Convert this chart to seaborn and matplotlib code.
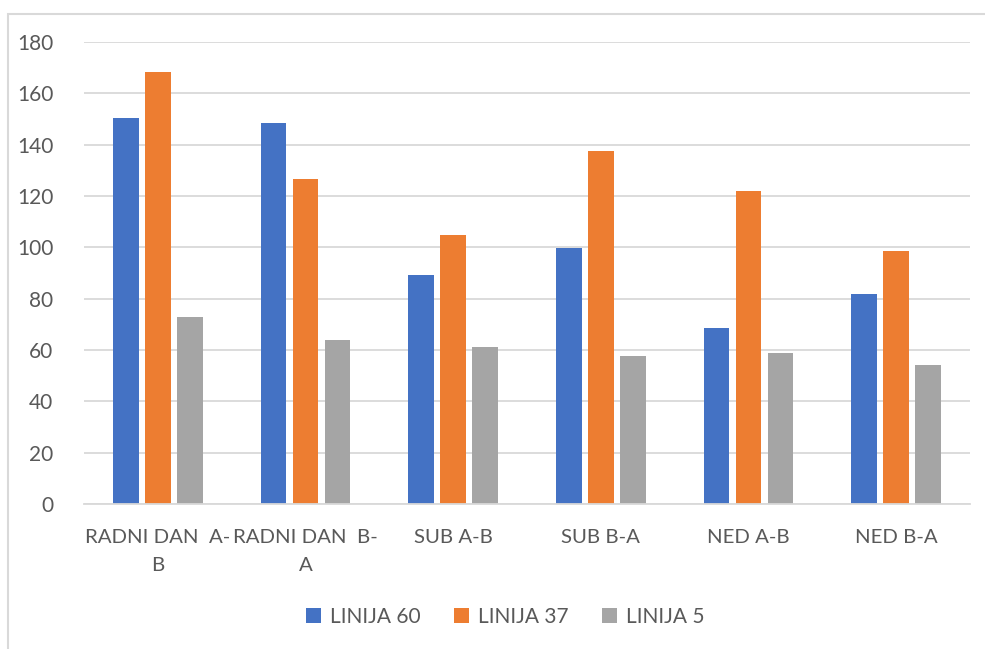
import matplotlib
matplotlib.use("Agg")
import matplotlib.pyplot as plt
import seaborn as sns
import pandas as pd
from matplotlib.patches import Rectangle, Patch

categories = ["RADNI DAN  A-\nB", "RADNI DAN  B-\nA", "SUB A-B", "SUB B-A", "NED A-B", "NED B-A"]
series_names = ["LINIJA 60", "LINIJA 37", "LINIJA 5"]
linija_60 = [150.3, 148.3, 89.1, 99.9, 68.4, 81.7]
linija_37 = [168.4, 126.7, 104.8, 137.5, 121.8, 98.6]
linija_5 = [73.0, 64.0, 61.0, 57.8, 59.0, 54.0]
colors = ["#4472C4", "#ED7D31", "#A5A5A5"]

rows = []
for name, vals in zip(series_names, [linija_60, linija_37, linija_5]):
    for c, v in zip(categories, vals):
        rows.append({"cat": c, "series": name, "value": v})
df = pd.DataFrame(rows)

sns.set_theme(style="white")
plt.rcParams["font.family"] = ["Lato", "DejaVu Sans"]
text_color = "#595959"

fig = plt.figure(figsize=(9.85, 6.49), dpi=100)
ax = fig.add_axes([84/985, 1-504/649, (970-84)/985, (504-42)/649])

sns.barplot(data=df, x="cat", y="value", hue="series", palette=colors,
            width=0.65, gap=0.2, ax=ax, order=categories, hue_order=series_names,
            saturation=1, legend=False, edgecolor="none")

ax.set_ylim(0, 180)
ax.set_yticks(range(0, 181, 20))
ax.set_xlim(-0.5, len(categories)-0.5)
ax.yaxis.grid(True, color="#d9d9d9", linewidth=1.3)
ax.set_axisbelow(True)
for s in ["top", "right", "left"]:
    ax.spines[s].set_visible(False)
ax.spines["bottom"].set_color("#d9d9d9")
ax.spines["bottom"].set_linewidth(1.3)
ax.tick_params(axis="y", length=0, labelsize=15, labelcolor=text_color, pad=22)
ax.tick_params(axis="x", length=0, labelsize=14.7, labelcolor=text_color, pad=18)
for lbl in ax.get_xticklabels():
    lbl.set_linespacing(1.78)
ax.set_xlabel("")
ax.set_ylabel("")

handles = [Patch(facecolor=c, edgecolor="none") for c in colors]
fig.legend(handles, series_names, loc="center", bbox_to_anchor=(505/985, 1-617/649),
           ncol=3, frameon=False, fontsize=15, labelcolor=text_color,
           handlelength=0.75, handleheight=0.75, handletextpad=0.4, columnspacing=1.6)

fig.patches.append(Rectangle((8/985, -0.1), 1.0, 1.1-14/649, transform=fig.transFigure,
                             fill=False, edgecolor="#d9d9d9", linewidth=1.5))

fig.savefig("out.png", dpi=100)
